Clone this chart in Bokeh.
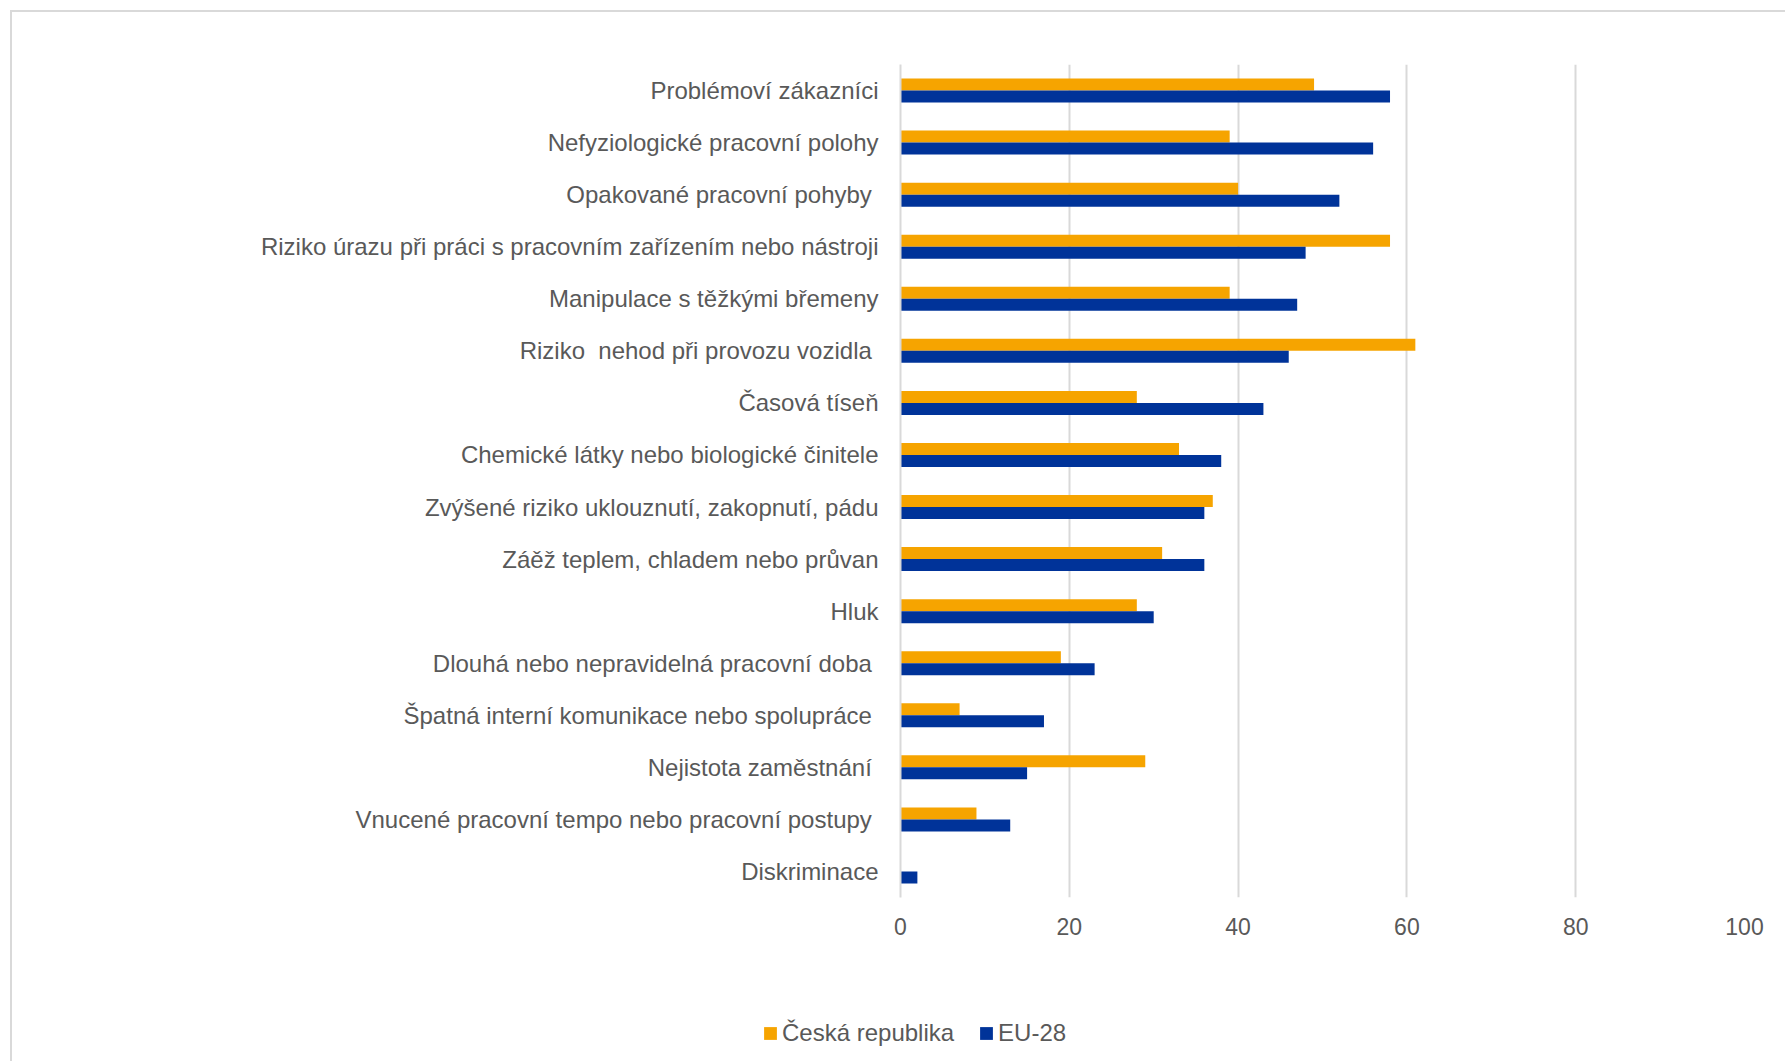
from bokeh.plotting import figure
from bokeh.models import ColumnDataSource, FactorRange, Range1d, FixedTicker, Legend, LegendItem
from bokeh.transform import dodge
from bokeh.embed import file_html
from bokeh.resources import INLINE

NB = "\u00a0"
categories = [
    "Problémoví zákazníci",
    "Nefyziologické pracovní polohy",
    "Opakované pracovní pohyby" + NB,
    "Riziko úrazu při práci s pracovním zařízením nebo nástroji",
    "Manipulace s těžkými břemeny",
    "Riziko" + NB + " nehod při provozu vozidla" + NB,
    "Časová tíseň",
    "Chemické látky nebo biologické činitele",
    "Zvýšené riziko uklouznutí, zakopnutí, pádu",
    "Záěž teplem, chladem nebo průvan",
    "Hluk",
    "Dlouhá nebo nepravidelná pracovní doba" + NB,
    "Špatná interní komunikace nebo spolupráce" + NB,
    "Nejistota zaměstnání" + NB,
    "Vnucené pracovní tempo nebo pracovní postupy" + NB,
    "Diskriminace",
]
cz_values = [49, 39, 40, 58, 39, 61, 28, 33, 37, 31, 28, 19, 7, 29, 9, 0]
eu_values = [58, 56, 52, 48, 47, 46, 43, 38, 36, 36, 30, 23, 17, 15, 13, 2]
series_names = ["Česká republika", "EU-28"]
x_ticks = [0, 20, 40, 60, 80, 100]

ORANGE = "#F6A400"
BLUE = "#003399"
TEXT = "#595959"
GRID = "#d9d9d9"
FONT = "Liberation Sans"

src = ColumnDataSource(dict(cat=categories, cz=cz_values, eu=eu_values))

p = figure(
    width=1775, height=955,
    y_range=FactorRange(*list(reversed(categories))),
    x_range=Range1d(0, 100),
    output_backend="svg", toolbar_location=None,
    min_border_left=888, min_border_right=43,
    min_border_top=52, min_border_bottom=70,
)
p.margin = (10, 0, 0, 10)
p.styles = {"border-left": "2px solid " + GRID, "border-top": "2px solid " + GRID}

r_cz = p.hbar(y=dodge("cat", 0.115, range=p.y_range), right="cz", left=0, height=0.23,
              source=src, fill_color=ORANGE, line_color=None)
r_eu = p.hbar(y=dodge("cat", -0.115, range=p.y_range), right="eu", left=0, height=0.23,
              source=src, fill_color=BLUE, line_color=None)

p.outline_line_color = None
p.background_fill_color = "white"
p.border_fill_color = "white"

p.xaxis.ticker = FixedTicker(ticks=x_ticks)
p.xaxis.axis_line_color = None
p.xaxis.major_tick_line_color = None
p.xaxis.minor_tick_line_color = None
p.xaxis.major_label_text_font_size = "23px"
p.xaxis.major_label_text_color = TEXT
p.xaxis.major_label_text_font = FONT
p.xaxis.major_label_standoff = 14

p.yaxis.axis_line_color = GRID
p.yaxis.axis_line_width = 2
p.yaxis.major_tick_line_color = None
p.yaxis.minor_tick_line_color = None
p.yaxis.major_label_text_font_size = "24px"
p.yaxis.major_label_text_color = TEXT
p.yaxis.major_label_text_font = FONT
p.yaxis.major_label_standoff = 16

p.xgrid.grid_line_color = GRID
p.xgrid.grid_line_width = 2
p.ygrid.grid_line_color = None

# legend strip below the chart (separate root, so its frame is not aligned to the chart's)
lg = figure(
    width=1775, height=96,
    x_range=Range1d(0, 1), y_range=Range1d(0, 1),
    output_backend="svg", toolbar_location=None,
    min_border_left=0, min_border_right=0, min_border_top=0, min_border_bottom=0,
)
lg.margin = (0, 0, 0, 10)
lg.styles = {"border-left": "2px solid " + GRID}
lg.axis.visible = False
lg.grid.visible = False
lg.outline_line_color = None
lg.border_fill_color = "white"
l_cz = lg.hbar(y=[2], right=[0], height=0.1, fill_color=ORANGE, line_color=None)
l_eu = lg.hbar(y=[2], right=[0], height=0.1, fill_color=BLUE, line_color=None)

legend = Legend(
    items=[LegendItem(label=series_names[0], renderers=[l_cz]),
           LegendItem(label=series_names[1], renderers=[l_eu])],
    orientation="horizontal",
    location=(750, 14),
    padding=0, margin=0, spacing=24,
    glyph_width=16, glyph_height=16, label_standoff=4,
    label_text_font_size="24px", label_text_color=TEXT, label_text_font=FONT,
    border_line_color=None, background_fill_alpha=0,
)
lg.add_layout(legend, "center")

open("out.html", "w").write(file_html([p, lg], INLINE))
